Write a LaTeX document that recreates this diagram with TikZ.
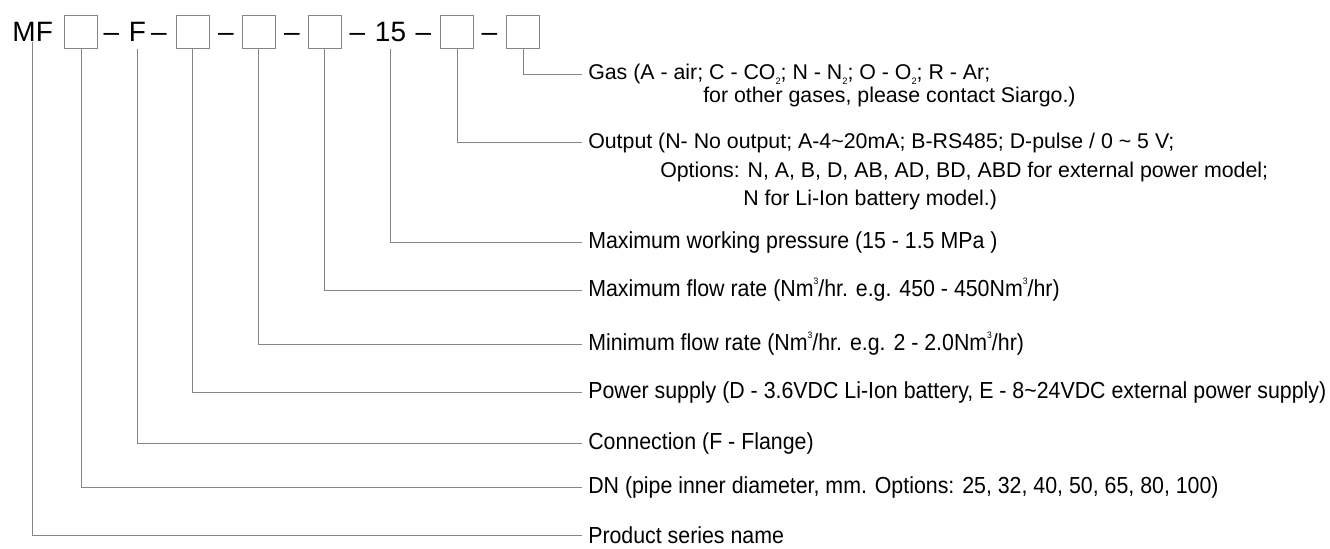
\documentclass[tikz,border=0pt]{standalone}
\usepackage{fontspec}
\setmainfont{Liberation Sans}
\newfontfamily\narrowfont[FakeStretch=0.92]{Liberation Sans}
\usetikzlibrary{positioning}
\definecolor{leadgray}{HTML}{858585}

% tiny sub- and superscripts as in the data sheet
\newcommand\subtwo{\raisebox{-0.45ex}{\fontsize{7}{7}\selectfont 2}}
\newcommand\cubed{\raisebox{1.0ex}{\fontsize{7}{7}\selectfont 3}}

\tikzset{
  code/.style={font=\fontsize{21}{21}\selectfont, text height=15pt, text depth=0pt, inner xsep=0pt, inner ysep=0pt},
  slot/.style={draw=leadgray, line width=0.75pt, minimum size=24.75pt, inner sep=0pt},
  leader/.style={draw=leadgray, line width=0.75pt},
  desc/.style={anchor=west, inner xsep=4.5pt, inner ysep=0pt, font=\fontsize{16}{16}\selectfont},
  descn/.style={desc, font=\narrowfont\fontsize{17.4}{17.4}\selectfont},
  more/.style={anchor=west, inner sep=0pt, font=\fontsize{16}{16}\selectfont}
}

\begin{document}
\begin{tikzpicture}[x=0.75pt,y=-0.75pt]
    \useasboundingbox (0,0) rectangle (1330,549);
    % model code on top
    \node[code] (mf) at (32.7,32) {MF};
    \node[code, inner ysep=5.25pt] (f) at (137.5,32) {F};
    \node[code, inner ysep=5.25pt] (fifteen) at (390.5,32) {15};
    \foreach \n/\x in {b1/81,b2/192.5,b3/258.5,b4/324.5,b5/457,b6/523}{
        \node[slot] (\n) at (\x,32.5) {};
    }
    \foreach \n/\x in {h1/111.5,h2/159,h3/226,h4/292,h5/357.5,h6/423.5,h7/489.5}{
        \node[code] (\n) at (\x,32) {\textendash};
    }

    % descriptions
    \node[desc] (gas) at (582,74.5) {Gas (A - air; C - CO\subtwo; N - N\subtwo; O - O\subtwo; R - Ar;};
    \node[more] (gas2) at (703,97) {for other gases, please contact Siargo.)};
    \node[desc] (out) at (582,143) {Output (N- No output; A-4\textasciitilde 20mA; B-RS485; D-pulse / 0 \textasciitilde{} 5 V;};
    \node[more] (out2) at (660,171.5) {Options: N, A, B, D, AB, AD, BD, ABD for external power model;};
    \node[more] (out3) at (743,199.5) {N for Li-Ion battery model.)};
    \node[descn] (pres) at (582,242.7) {Maximum working pressure (15 - 1.5 MPa )};
    \node[descn] (maxflow) at (582,290) {Maximum flow rate (Nm\cubed/hr. e.g. 450 - 450Nm\cubed/hr)};
    \node[descn] (minflow) at (582,344) {Minimum flow rate (Nm\cubed/hr. e.g. 2 - 2.0Nm\cubed/hr)};
    \node[descn] (power) at (582,392.7) {Power supply (D - 3.6VDC Li-Ion battery, E - 8\textasciitilde 24VDC external power supply)};
    \node[descn] (conn) at (582,443.7) {Connection (F - Flange)};
    \node[descn] (dn) at (582,487.3) {DN (pipe inner diameter, mm. Options: 25, 32, 40, 50, 65, 80, 100)};
    \node[descn] (prod) at (582,535) {Product series name};

    % leaders from each code position
    \draw[leader] (mf.base) |- (prod.west);
    \foreach \a/\b in {b1/dn,f/conn,b2/power,b3/minflow,b4/maxflow,fifteen/pres,b5/out,b6/gas}{
        \draw[leader] (\a.south) |- (\b.west);
    }
\end{tikzpicture}
\end{document}
